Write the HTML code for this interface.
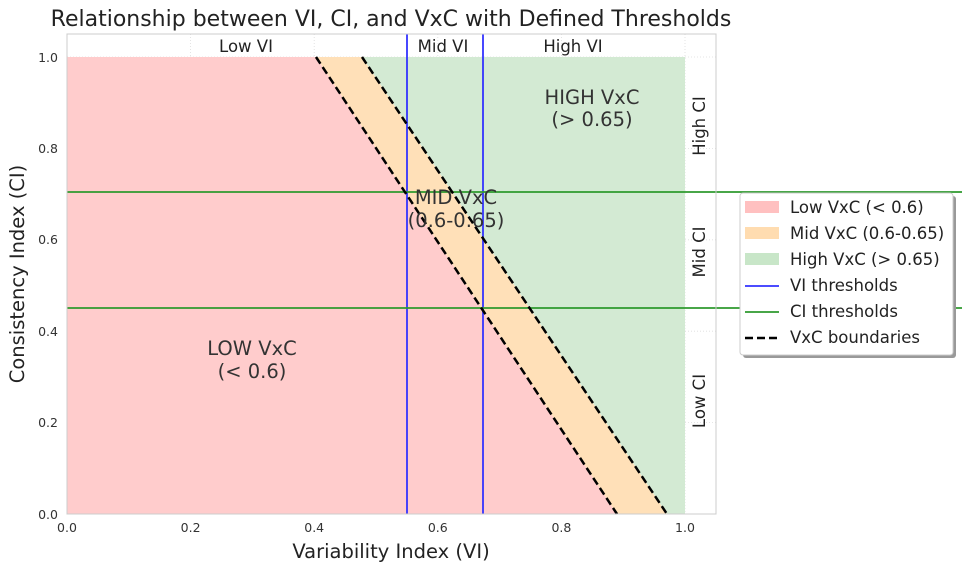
<!DOCTYPE html>
<html><head><meta charset="utf-8"><style>body{margin:0;background:#fff}svg{display:block;font-family:"DejaVu Sans","Liberation Sans",sans-serif}</style></head><body>
<svg width="962" height="572" viewBox="0 0 962 572">
<rect width="962" height="572" fill="#fff"/>
<text x="391" y="26" font-size="22" text-anchor="middle" fill="#222">Relationship between VI, CI, and VxC with Defined Thresholds</text>
<g stroke="#ddd" stroke-width="0.8" stroke-dasharray="1,2">
<line x1="190.6" y1="34" x2="190.6" y2="514"/><line x1="314.2" y1="34" x2="314.2" y2="514"/><line x1="437.8" y1="34" x2="437.8" y2="514"/><line x1="561.4" y1="34" x2="561.4" y2="514"/><line x1="685" y1="34" x2="685" y2="514"/>
<line x1="67" y1="422.6" x2="716" y2="422.6"/><line x1="67" y1="331.2" x2="716" y2="331.2"/><line x1="67" y1="239.8" x2="716" y2="239.8"/><line x1="67" y1="148.4" x2="716" y2="148.4"/><line x1="67" y1="57" x2="716" y2="57"/>
</g>
<polygon points="67,57 316,57 617,514 67,514" fill="#ffcccc"/>
<polygon points="316,57 362,57 667,514 617,514" fill="#ffe0b8"/>
<polygon points="362,57 685,57 685,514 667,514" fill="#d3ead3"/>
<line x1="407" y1="34" x2="407" y2="514" stroke="#3333ff" stroke-width="1.8"/>
<line x1="483" y1="34" x2="483" y2="514" stroke="#3333ff" stroke-width="1.8"/>
<line x1="67" y1="192" x2="962" y2="192" stroke="#2e9a2e" stroke-width="1.8"/>
<line x1="67" y1="308" x2="962" y2="308" stroke="#2e9a2e" stroke-width="1.8"/>
<line x1="316" y1="57" x2="617" y2="514" stroke="#000" stroke-width="2.5" stroke-dasharray="8,4"/>
<line x1="362" y1="57" x2="667" y2="514" stroke="#000" stroke-width="2.5" stroke-dasharray="8,4"/>
<rect x="67" y="34" width="649" height="480" fill="none" stroke="#ccc" stroke-width="1"/>
<g font-size="19.5" fill="#333" text-anchor="middle">
<text x="252" y="355">LOW VxC</text><text x="252" y="378">(&lt; 0.6)</text>
<text x="592" y="104">HIGH VxC</text><text x="592" y="126">(&gt; 0.65)</text>
<text x="456" y="204">MID VxC</text><text x="456" y="227">(0.6-0.65)</text>
</g>
<g font-size="16.5" fill="#222" text-anchor="middle">
<text x="246" y="52">Low VI</text><text x="443" y="52">Mid VI</text><text x="573" y="52">High VI</text>
<text transform="translate(705,126) rotate(-90)">High CI</text>
<text transform="translate(705,252) rotate(-90)">Mid CI</text>
<text transform="translate(705,401) rotate(-90)">Low CI</text>
</g>
<g font-size="12.5" fill="#333" text-anchor="middle">
<text x="67" y="532">0.0</text><text x="190.6" y="532">0.2</text><text x="314.2" y="532">0.4</text><text x="437.8" y="532">0.6</text><text x="561.4" y="532">0.8</text><text x="685" y="532">1.0</text>
</g>
<g font-size="12.5" fill="#333" text-anchor="end">
<text x="58" y="519">0.0</text><text x="58" y="427">0.2</text><text x="58" y="336">0.4</text><text x="58" y="244">0.6</text><text x="58" y="153">0.8</text><text x="58" y="62">1.0</text>
</g>
<text x="391" y="558" font-size="19.5" fill="#222" text-anchor="middle">Variability Index (VI)</text>
<text transform="translate(24,274) rotate(-90)" font-size="19.5" fill="#222" text-anchor="middle">Consistency Index (CI)</text>
<rect x="743" y="196" width="213" height="162" fill="#999" rx="3"/>
<rect x="740" y="193" width="213" height="162" fill="#fff" stroke="#ccc" rx="3"/>
<rect x="745" y="201" width="34" height="12" fill="#ffc0c0"/>
<rect x="745" y="227" width="34" height="12" fill="#ffdcb0"/>
<rect x="745" y="253" width="34" height="12" fill="#c8e6c8"/>
<line x1="745" y1="286" x2="779" y2="286" stroke="#3333ff" stroke-width="1.8"/>
<line x1="745" y1="312" x2="779" y2="312" stroke="#2e9a2e" stroke-width="1.8"/>
<line x1="745" y1="338" x2="779" y2="338" stroke="#000" stroke-width="2.5" stroke-dasharray="8,4"/>
<g font-size="16.5" fill="#222">
<text x="790" y="213">Low VxC (&lt; 0.6)</text><text x="790" y="239">Mid VxC (0.6-0.65)</text><text x="790" y="265">High VxC (&gt; 0.65)</text>
<text x="790" y="291">VI thresholds</text><text x="790" y="317">CI thresholds</text><text x="790" y="343">VxC boundaries</text>
</g>
</svg></body></html>
